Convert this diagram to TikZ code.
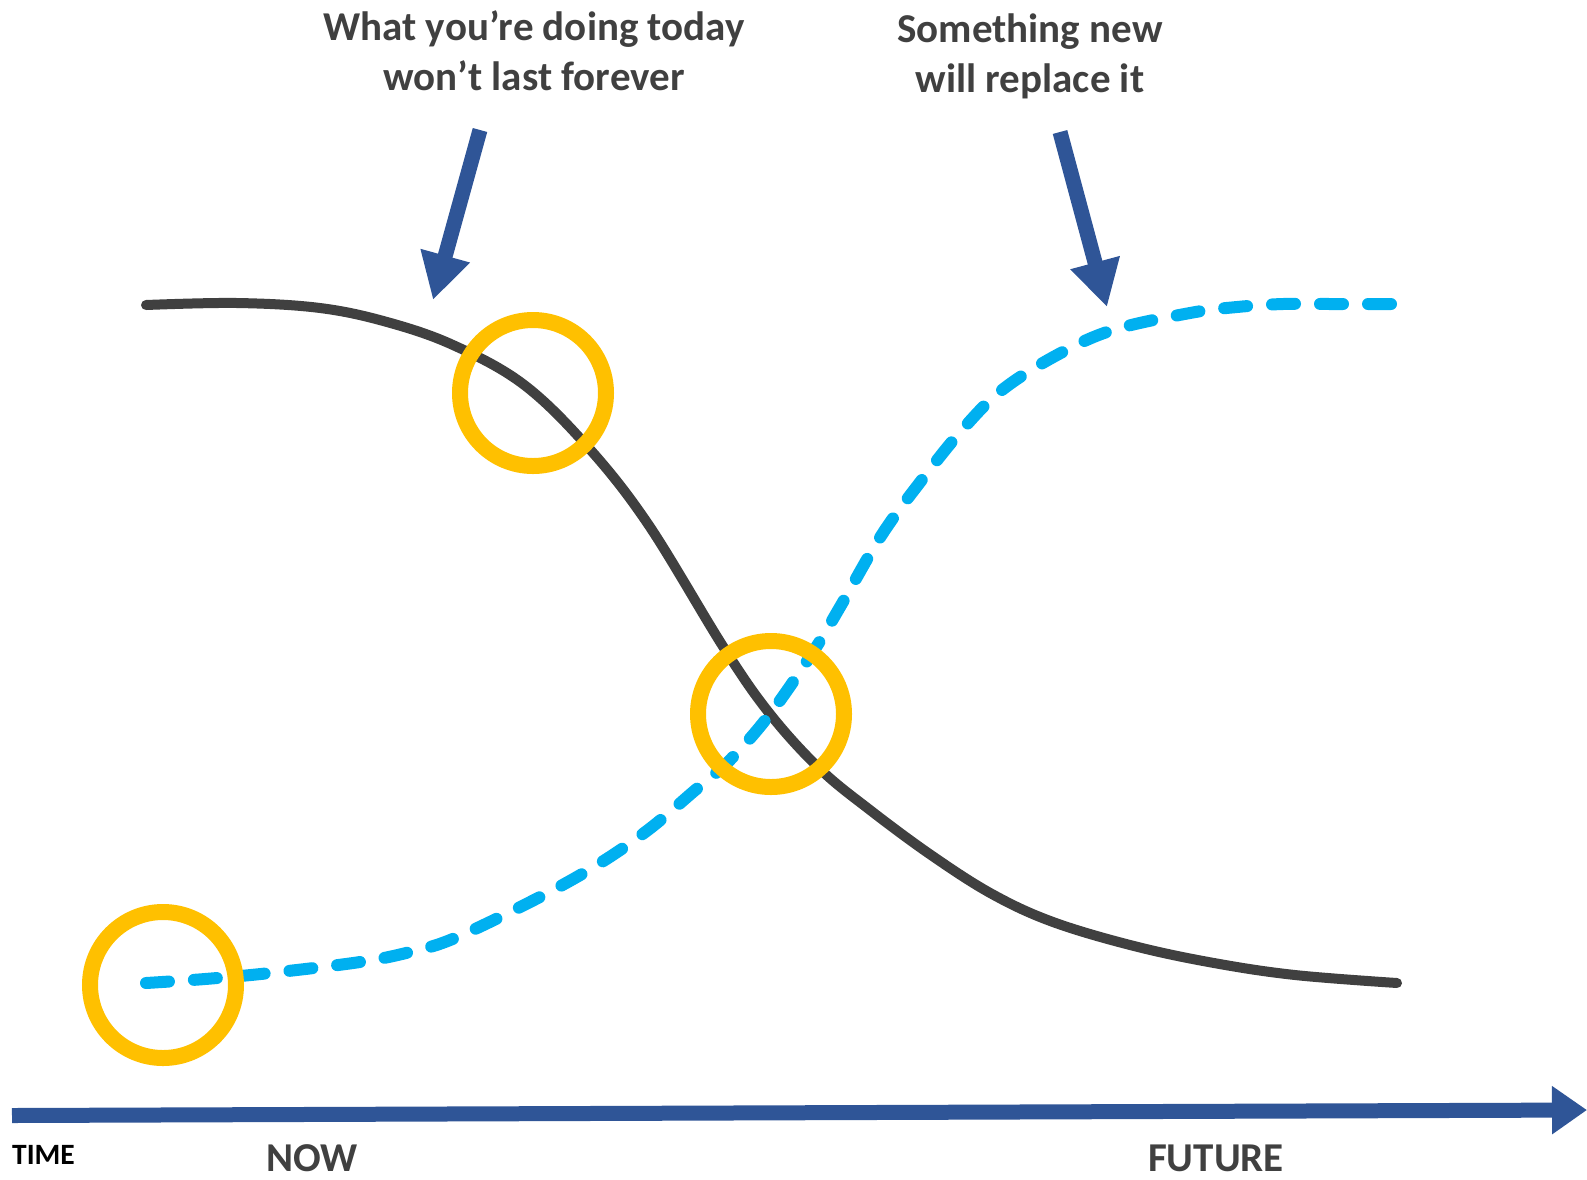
\documentclass[tikz,border=0pt]{standalone}
\usepackage{fontspec}
\setmainfont{Carlito}
\usetikzlibrary{arrows.meta}
\definecolor{dgray}{HTML}{404040}
\definecolor{navy}{HTML}{2F5597}
\definecolor{cyanb}{HTML}{00B0F0}
\definecolor{gold}{HTML}{FFC000}
\tikzset{
  title/.style={font=\bfseries\fontsize{41}{50}\selectfont, text=dgray, align=center, inner sep=0pt},
  axislabel/.style={font=\bfseries\fontsize{41}{46}\selectfont, text=dgray, inner sep=0pt},
  pointer/.style={navy, line width=15pt, -{Triangle[length=46pt,width=48pt]}},
  oldcurve/.style={dgray, line width=10pt, line cap=round},
  newcurve/.style={cyanb, line width=12pt, line cap=round, dash pattern=on 23pt off 25pt},
  ring/.style={gold, line width=16pt},
}
\begin{document}
\begin{tikzpicture}[x=1pt,y=-1pt]
\useasboundingbox (0,0) rectangle (1587,1179);
% titles
\node[title, anchor=north] (t1) at (534,10) {What you’re doing today\\won’t last forever};
\node[title, anchor=north] (t2) at (1030,14) {Something new\\will replace it};
% pointer arrows
\coordinate (a1s) at (480,130);
\coordinate (a1e) at (433,300);
\coordinate (a2s) at (1060,132);
\coordinate (a2e) at (1107,307);
\draw[pointer] (a1s) -- (a1e);
\draw[pointer] (a2s) -- (a2e);
% old curve
\draw[oldcurve] plot[smooth, tension=0.6] coordinates {
(146,305) (237,303) (320,308) (387,322) (453,345) (523,384) (587,446) (648,524)
(724,648) (770,714) (820,769) (870,810) (931,855) (992,894) (1053,922)
(1134,946) (1214,963) (1295,975) (1397,983)};
% new curve
\draw[newcurve] plot[smooth, tension=0.6] coordinates {
(146,983) (205,979) (270,973) (360,962) (410,952) (455,938) (536,899) (597,865)
(648,830) (693,792) (730,760) (770,714) (813,652) (840,607) (881,536)
(921,481) (962,430) (1002,390) (1057,355) (1113,330) (1190,313)
(1237,307) (1283,304) (1333,304) (1392,304)};
% rings
\node[ring, draw, circle, minimum size=146pt, inner sep=0pt] (c1) at (533,393) {};
\node[ring, draw, circle, minimum size=146pt, inner sep=0pt] (c2) at (771,714) {};
\node[ring, draw, circle, minimum size=146pt, inner sep=0pt] (c3) at (163,985) {};
% time axis
\coordinate (ax0) at (12,1115.5);
\coordinate (ax1) at (1587,1110);
\draw[navy, line width=15pt, -{Triangle[length=35pt,width=46pt]}] (ax0) -- (ax1);
% labels
\node[font=\bfseries\fontsize{29.5}{32}\selectfont, text=black, inner sep=0pt, anchor=base west] (time) at (12,1164) {TIME};
\node[axislabel, anchor=base] (now) at (312,1171) {NOW};
\node[axislabel, anchor=base] (future) at (1216,1171) {FUTURE};
\end{tikzpicture}
\end{document}
